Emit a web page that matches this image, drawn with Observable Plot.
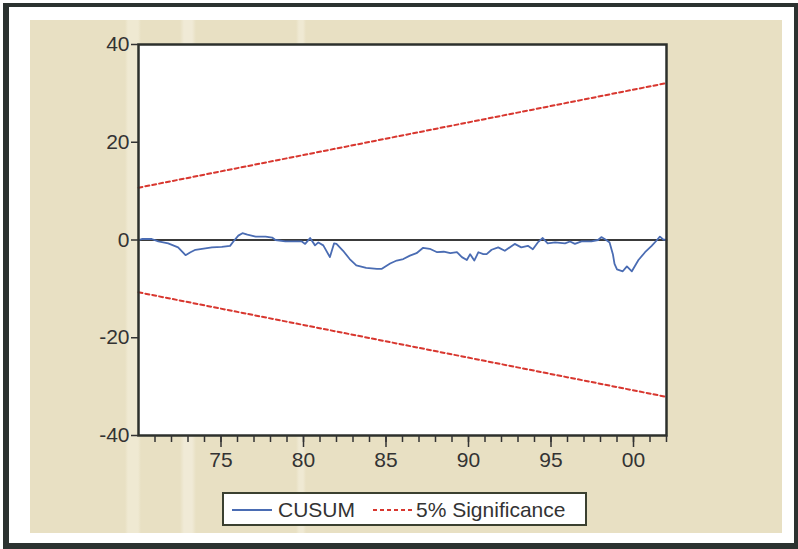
<!DOCTYPE html>
<html><head><meta charset="utf-8">
<script src="https://cdn.jsdelivr.net/npm/d3@7"></script>
<script src="https://cdn.jsdelivr.net/npm/@observablehq/plot@0.6"></script>
<style>
body{margin:0;background:#fff;}
#wrap{position:relative;width:798px;height:549px;overflow:hidden;background:#fff;font-family:"Liberation Sans",Arial,sans-serif;}
#frame{position:absolute;left:3px;top:3px;right:0px;bottom:0px;border-left:6px solid #2b3230;border-top:4px solid #2b3230;border-bottom:6px solid #2b3230;border-right:4px solid #2b3230;box-sizing:border-box;}
#panel{position:absolute;left:30px;top:20px;width:752px;height:513px;
  background:linear-gradient(to right,#e8e0c3 0px,#e8e0c3 95px,#efe9d2 98px,#efe9d2 108px,#e8e0c3 111px,#e8e0c3 150px,#f0ead6 154px,#f0ead6 162px,#e8e0c3 166px,#e8e0c3 266px,#efe9d3 269px,#efe9d3 273px,#e8e0c3 276px,#e8e0c3 752px);}
#chart{position:absolute;left:0;top:0;}
#legend{position:absolute;left:222px;top:492px;width:365px;height:34px;border:2px solid #3b4030;background:#fff;box-sizing:border-box;color:#333;font-size:21px;}
#legend .t{position:absolute;top:4px;line-height:24px;white-space:nowrap;}
#legend svg{position:absolute;top:0;}
</style>
</head><body>
<div id="wrap">
  <div id="frame"></div>
  <div id="panel"></div>
  <div id="chart"></div>
  <div id="legend">
    <svg style="left:8px" width="42" height="30"><line x1="0" x2="40" y1="16" y2="16" stroke="#4a6cb3" stroke-width="2"/></svg>
    <span class="t" style="left:54px">CUSUM</span>
    <svg style="left:149px" width="44" height="30"><line x1="0" x2="42" y1="16" y2="16" stroke="#d8372f" stroke-width="2" stroke-dasharray="4,3"/></svg>
    <span class="t" style="left:192px">5% Significance</span>
  </div>
</div>
<script>
// CUSUM values (decimal year, value)
const cusumYears = [1970.0,1970.2,1970.8,1971.2,1971.8,1972.4,1972.85,1973.15,1973.45,1973.85,1974.45,1975.05,1975.55,1975.75,1976.05,1976.3,1976.6,1977.1,1977.7,1978.1,1978.3,1978.9,1979.5,1979.9,1980.1,1980.4,1980.7,1980.9,1981.2,1981.6,1981.85,1982.0,1982.4,1982.8,1983.2,1983.8,1984.45,1984.75,1985.25,1985.65,1986.05,1986.45,1986.85,1987.25,1987.65,1988.1,1988.5,1988.9,1989.3,1989.6,1989.9,1990.1,1990.35,1990.6,1990.9,1991.1,1991.4,1991.8,1992.2,1992.8,1993.2,1993.6,1993.9,1994.2,1994.5,1994.8,1995.25,1995.85,1996.15,1996.45,1996.85,1997.45,1997.85,1998.05,1998.35,1998.55,1998.75,1998.85,1999.0,1999.35,1999.6,1999.9,2000.3,2000.7,2001.1,2001.4,2001.6,2001.8,2002.0];
const cusumValues = [0.0,0.2,0.2,-0.3,-0.7,-1.5,-3.1,-2.5,-2.0,-1.8,-1.5,-1.4,-1.2,-0.3,0.9,1.4,1.1,0.7,0.7,0.5,0.0,-0.3,-0.3,-0.3,-0.8,0.4,-1.1,-0.5,-1.1,-3.5,-0.7,-0.8,-2.2,-3.9,-5.2,-5.7,-5.9,-5.9,-4.8,-4.2,-3.9,-3.2,-2.7,-1.6,-1.8,-2.5,-2.4,-2.7,-2.5,-3.5,-4.1,-2.9,-4.2,-2.5,-2.9,-2.9,-2.0,-1.5,-2.2,-0.8,-1.5,-1.2,-1.9,-0.5,0.4,-0.7,-0.5,-0.7,-0.3,-0.8,-0.3,-0.3,0.0,0.6,0.0,-0.5,-2.9,-4.9,-6.0,-6.4,-5.4,-6.4,-4.1,-2.5,-1.2,-0.1,0.7,0.1,0.0];

// 5% significance bounds (straight lines)
const boundYears = [1970, 2002];
const upperBound = [10.7, 32.1];
const lowerBound = [-10.7, -32.1];

// Tick labels
const yTicks = [-40, -20, 0, 20, 40];
const majorYearTicks = [1975, 1980, 1985, 1990, 1995, 2000];
const minorYearTicks = [1971,1972,1973,1974,1975,1976,1977,1978,1979,1980,1981,1982,1983,1984,1985,1986,1987,1988,1989,1990,1991,1992,1993,1994,1995,1996,1997,1998,1999,2000,2001,2002];

const cusum = cusumYears.map((x, i) => ({x, y: cusumValues[i]}));
const upper = boundYears.map((x, i) => ({x, y: upperBound[i]}));
const lower = boundYears.map((x, i) => ({x, y: lowerBound[i]}));

const chart = Plot.plot({
  width: 798, height: 549,
  marginLeft: 138, marginRight: 132, marginTop: 44, marginBottom: 114,
  style: {background: "transparent", fontFamily: '"Liberation Sans", Arial, sans-serif', fontSize: "21px", color: "#333"},
  x: {domain: [1970, 2002], label: null},
  y: {domain: [-40, 40], label: null},
  marks: [
    Plot.frame({fill: "white", stroke: null}),
    Plot.ruleY([0], {stroke: "#3a3a3a", strokeWidth: 2}),
    Plot.line(upper, {x: "x", y: "y", stroke: "#d8372f", strokeWidth: 2, strokeDasharray: "4,3"}),
    Plot.line(lower, {x: "x", y: "y", stroke: "#d8372f", strokeWidth: 2, strokeDasharray: "4,3"}),
    Plot.line(cusum, {x: "x", y: "y", stroke: "#4a6cb3", strokeWidth: 1.8}),
    Plot.frame({stroke: "#2d302c", strokeWidth: 2.5}),
    Plot.axisX(minorYearTicks, {tickSize: 7, strokeWidth: 1.5, stroke: "#333", tickFormat: () => ""}),
    Plot.axisX(majorYearTicks, {tickSize: 12, tickPadding: 5, strokeWidth: 1.5, stroke: "#333", fill: "#333", fontSize: 21,
      tickFormat: d => String(d % 100).padStart(2, "0")}),
    Plot.axisY(yTicks, {tickSize: 7, tickPadding: 2, strokeWidth: 1.5, stroke: "#333", fill: "#333", fontSize: 21,
      tickFormat: d => String(d)})
  ]
});
document.getElementById("chart").appendChild(chart);
</script>
</body></html>
